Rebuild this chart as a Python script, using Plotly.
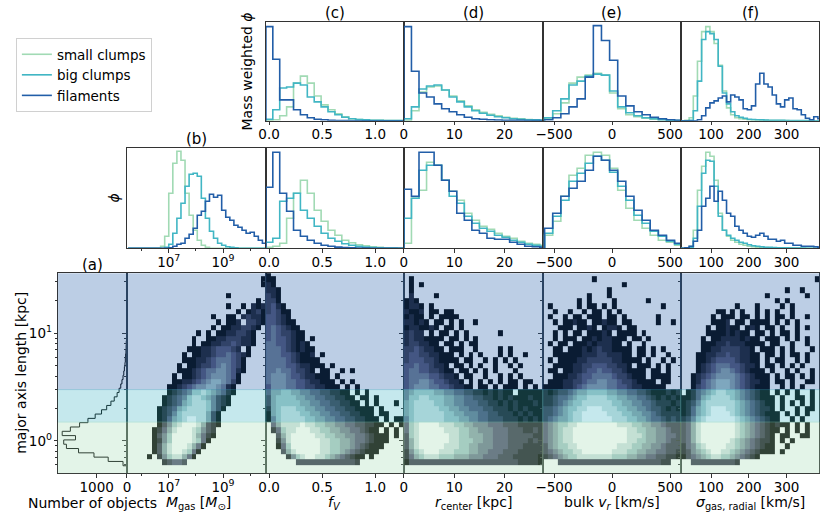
import numpy as np
import plotly.graph_objects as go

W, H = 831, 516

# ---------------- 1D histograms (heights as fraction of panel height) ----------------
MGAS_EDGES_LOG = [5.5 + 0.15 * k for k in range(35)]
MGAS_N_SMALL = [0, 0, 0, 0, 0, 0, 0, 0, 0.02, 0.12, 0.55, 0.85, 0.97, 0.88, 0.55, 0.33, 0.18,
                0.08, 0.03, 0.01, 0, 0, 0, 0, 0, 0, 0, 0, 0, 0, 0, 0, 0, 0]
MGAS_N_BIG = [0, 0, 0, 0, 0, 0, 0, 0, 0, 0.01, 0.04, 0.15, 0.30, 0.45, 0.62, 0.74, 0.75, 0.72,
              0.50, 0.30, 0.17, 0.10, 0.05, 0.03, 0.015, 0.01, 0.005, 0, 0, 0, 0, 0, 0, 0]
MGAS_N_FIL = [0, 0, 0, 0, 0, 0, 0, 0, 0, 0, 0.005, 0.02, 0.04, 0.05, 0.10, 0.14, 0.20, 0.33,
              0.37, 0.47, 0.54, 0.51, 0.53, 0.38, 0.31, 0.28, 0.23, 0.21, 0.18, 0.15, 0.16,
              0.12, 0.08, 0.05]

FV_EDGES = [-0.03 + 0.065 * k for k in range(21)]
FV_MW_SMALL = [0.005, 0.01, 0.05, 0.14, 0.38, 0.45, 0.38, 0.25, 0.16, 0.11, 0.07, 0.04, 0.02,
               0.012, 0.008, 0.005, 0.003, 0.002, 0.001, 0.001]
FV_MW_BIG = [0.015, 0.11, 0.33, 0.34, 0.38, 0.36, 0.24, 0.19, 0.14, 0.09, 0.06, 0.035, 0.02,
             0.012, 0.008, 0.005, 0.003, 0.002, 0.001, 0.001]
FV_MW_FIL = [0.95, 0.62, 0.21, 0.21, 0.11, 0.06, 0.03, 0.015, 0.01, 0.005, 0.002, 0.001, 0, 0,
             0, 0, 0, 0, 0, 0]
FV_N_SMALL = [0.01, 0.02, 0.05, 0.30, 0.55, 0.68, 0.55, 0.38, 0.27, 0.18, 0.13, 0.08, 0.055,
              0.035, 0.025, 0.015, 0.01, 0.006, 0.004, 0.002]
FV_N_BIG = [0.06, 0.10, 0.47, 0.50, 0.55, 0.38, 0.30, 0.22, 0.15, 0.10, 0.07, 0.045, 0.03, 0.02,
            0.012, 0.008, 0.005, 0.003, 0.002, 0.001]
FV_N_FIL = [0.61, 0.96, 0.55, 0.37, 0.18, 0.12, 0.08, 0.05, 0.03, 0.02, 0.012, 0.008, 0.005,
            0.003, 0.002, 0.001, 0, 0, 0, 0]

RC_EDGES = [1.5 * k for k in range(20)]
RC_MW_SMALL = [0.005, 0.10, 0.29, 0.34, 0.35, 0.31, 0.25, 0.20, 0.15, 0.11, 0.085, 0.065, 0.05,
               0.035, 0.025, 0.018, 0.012, 0.008, 0.005]
RC_MW_BIG = [0.02, 0.14, 0.32, 0.35, 0.36, 0.31, 0.24, 0.19, 0.14, 0.10, 0.075, 0.055, 0.04,
             0.03, 0.02, 0.015, 0.01, 0.008, 0.005]
RC_MW_FIL = [0.95, 0.50, 0.28, 0.24, 0.17, 0.12, 0.09, 0.06, 0.035, 0.02, 0.015, 0.01, 0.007,
             0.005, 0.004, 0.003, 0.002, 0.001, 0.001]
RC_N_SMALL = [0.05, 0.50, 0.58, 0.86, 0.83, 0.68, 0.57, 0.48, 0.35, 0.28, 0.22, 0.19, 0.15, 0.12,
              0.10, 0.07, 0.05, 0.04, 0.03]
RC_N_BIG = [0.30, 0.50, 0.78, 0.83, 0.83, 0.68, 0.52, 0.45, 0.32, 0.25, 0.20, 0.17, 0.13, 0.11,
            0.08, 0.06, 0.04, 0.03, 0.02]
RC_N_FIL = [0.59, 0.52, 0.96, 0.96, 0.83, 0.68, 0.57, 0.35, 0.28, 0.18, 0.15, 0.10, 0.09, 0.09,
            0.06, 0.04, 0.02, 0.015, 0.01]

VR_EDGES = [-581 + 70 * k for k in range(18)]
VR_MW_SMALL = [0.02, 0.07, 0.18, 0.38, 0.44, 0.46, 0.48, 0.46, 0.28, 0.12, 0.06, 0.04, 0.025,
               0.015, 0.01, 0.005, 0.002]
VR_MW_BIG = [0.03, 0.10, 0.22, 0.36, 0.40, 0.45, 0.47, 0.46, 0.30, 0.14, 0.08, 0.05, 0.03, 0.02,
             0.01, 0.005, 0.002]
VR_MW_FIL = [0.01, 0.03, 0.07, 0.14, 0.22, 0.44, 0.96, 0.81, 0.61, 0.25, 0.15, 0.09, 0.06, 0.035,
             0.02, 0.01, 0.005]
VR_N_SMALL = [0.13, 0.27, 0.52, 0.73, 0.80, 0.93, 0.96, 0.93, 0.80, 0.58, 0.40, 0.28, 0.20, 0.13,
              0.08, 0.06, 0.03]
VR_N_BIG = [0.15, 0.32, 0.48, 0.67, 0.75, 0.85, 0.92, 0.88, 0.76, 0.62, 0.48, 0.33, 0.25, 0.17,
            0.12, 0.07, 0.04]
VR_N_FIL = [0.20, 0.35, 0.52, 0.60, 0.67, 0.78, 0.92, 0.88, 0.78, 0.67, 0.52, 0.38, 0.28, 0.18,
            0.13, 0.08, 0.05]

SIG_EDGES = [20 + 11 * k for k in range(35)]
SIG_MW_SMALL = [0, 0.005, 0.03, 0.25, 0.60, 0.90, 0.95, 0.90, 0.78, 0.56, 0.30, 0.13, 0.06, 0.03,
                0.02, 0.015, 0.01, 0.008, 0.005, 0.004, 0.003, 0.002, 0.002, 0.001, 0.001, 0.001,
                0, 0, 0, 0, 0, 0, 0, 0]
SIG_MW_BIG = [0, 0, 0.005, 0.10, 0.40, 0.82, 0.90, 0.88, 0.82, 0.55, 0.28, 0.17, 0.09, 0.05,
              0.035, 0.025, 0.015, 0.012, 0.01, 0.008, 0.006, 0.005, 0.004, 0.003, 0.003, 0.002,
              0.002, 0.002, 0.001, 0.001, 0.001, 0, 0, 0]
SIG_MW_FIL = [0, 0, 0, 0, 0.01, 0.05, 0.13, 0.18, 0.20, 0.23, 0.25, 0.19, 0.26, 0.24, 0.21, 0.12,
              0.11, 0.15, 0.37, 0.48, 0.37, 0.34, 0.26, 0.17, 0.14, 0.21, 0.23, 0.12, 0.11, 0.06,
              0.025, 0.01, 0.04, 0.02]
SIG_N_SMALL = [0, 0, 0.02, 0.18, 0.58, 0.82, 0.96, 0.92, 0.68, 0.35, 0.18, 0.12, 0.08, 0.06, 0.04,
               0.03, 0.02, 0.015, 0.01, 0.01, 0.008, 0.006, 0.005, 0.004, 0.003, 0.003, 0.002,
               0.002, 0.002, 0.001, 0.001, 0.001, 0, 0]
SIG_N_BIG = [0, 0, 0.01, 0.10, 0.42, 0.75, 0.88, 0.87, 0.62, 0.32, 0.18, 0.13, 0.10, 0.08, 0.06,
             0.05, 0.035, 0.025, 0.02, 0.015, 0.01, 0.01, 0.008, 0.006, 0.005, 0.004, 0.003,
             0.002, 0.002, 0.002, 0.001, 0.001, 0.001, 0]
SIG_N_FIL = [0, 0.005, 0.02, 0.07, 0.18, 0.42, 0.50, 0.62, 0.47, 0.57, 0.48, 0.35, 0.32, 0.22,
             0.18, 0.15, 0.12, 0.11, 0.13, 0.15, 0.12, 0.09, 0.09, 0.07, 0.08, 0.05, 0.05, 0.03,
             0.03, 0.02, 0.02, 0.02, 0.015, 0.01]

# panel (a): number of objects per major-axis-length bin (log10 edges)
NOBJ_EDGES_LOG = [-0.23 + 0.04 * k for k in range(46)]
NOBJ_COUNTS = [130, 620, 1090, 1600, 2000, 2090, 1700, 2140, 1870, 1565, 1290, 1050, 840, 670,
               530, 420, 325, 260, 205, 165, 130, 105, 85, 65, 54, 43, 33, 27, 22, 16, 11, 8, 6,
               5, 4, 3, 2, 2, 1, 1, 1, 0, 1, 0, 0]

# ---------------- 2D histograms: log-count level per cell (1 dark .. 9 light, '.' empty) -------
# rows from top (log10 L = 1.577) to bottom (log10 L = -0.223), 0.05 dex per row, 28 columns
GRID_LOGL_TOP, GRID_DLOGL, GRID_NROWS, GRID_NCOLS = 1.577, 0.05, 36, 28

MGAS_GRID = [
    "",
    "...........................1",
    "...........................1",
    "",
    "....................1",
    "..........................1",
    "....................1..1.212",
    "......................1.1231",
    ".................1..11.23221",
    "..................1.112.3321",
    ".................1.11223321",
    "..............1.1.11223321",
    ".............1..1122333221",
    ".............1.11223343221",
    "............11122344432.1",
    "...........1.112234454321",
    "...........1112234555431",
    "..........1.112334565431",
    "..........11123455665421",
    ".........1.112345666541",
    ".........11223456776531",
    "........11234566776521",
    "........12345778765421",
    ".......12345788765321",
    ".......12346788875321",
    "......12346788887531",
    "......1235788888631",
    "......1246789988631",
    "......1357899986321",
    ".....1246899987532",
    ".....1357999986421",
    ".....125799998741",
    ".....13689998641",
    ".....1368998741",
    "....1.25788641",
    ".......23443",
]
FV_GRID = [
    "1",
    "11",
    "21",
    "221",
    "321",
    "331",
    "3421",
    "34311",
    "44321",
    "443211",
    "4543211",
    "45433211",
    "45443211.1",
    "554432121",
    "5554321211",
    "5554432112.1",
    "55554321111",
    "555544322111.1",
    "5565543321.11..1.1",
    "5666544322111.1",
    "56665544322111.1.1",
    "466655443322111.1.1",
    "46677665544332211.1.1",
    "367777665544332211.11.1",
    "3677777665544332211.1.1...1",
    "2678887766554433221111.1",
    "1678888776655443322111.11",
    "15788888776655443322111.1.11",
    ".46888898877665544332211.1.1",
    ".2478899988776655443211.1.1",
    "..36899999887766554432111.1",
    "..25899999988776654432111",
    "..1479999998877665432111",
    "...36899999887765432111",
    "....2578998876543211.1",
    "......3333333333332",
]
RC_GRID = [
    "",
    ".1",
    ".1.1",
    ".1",
    ".2....1",
    "121",
    "1221.1",
    "2112.11.11",
    "1211.1.1111",
    "22121.11.1.1..1",
    "1221121.11.1",
    "2322.1.11.1.1......1",
    "23221111.11.1.1",
    "2332211.11.1.11",
    "33432211.111..1....1.1",
    "3443322111.1.1.1...1.1..1",
    "34443321111.11..1.1.1.1",
    "445443221.11.1.1..1..1.1",
    "4554433211.11.1.1.1...1",
    "45555443221.11..1..1.1.1",
    "455665443221.1.1.1.1.11.11",
    "45666554432211.11.1.111.1.1",
    "5677776655443322121211.11111",
    "5778877766554433221212111211",
    "6788887766554443322121211121",
    "6788888776655444332221212111",
    "6788888877665554433222121211",
    "5788888877766554433322212121",
    "4789999888776655544433322222",
    "4789999988877665554443332232",
    "3789999998877666554443333322",
    "3689999998877766554443333232",
    "3689999988877665554443332222",
    "2578999888777665544433322222",
    "2467888777666555444333222221",
    "1333333333333333333333322221",
]
VR_GRID = [
    "",
    "..........1",
    "................1",
    ".............1",
    ".........1...1",
    ".......1.1....1......1",
    ".1.....1.11.1.1.........1",
    "..1..1..1.11.1.1",
    ".1..1.11.111.11.1......1",
    "..1.11211.11211.11.....1..1",
    "...111.1121.1221.11",
    "..1.1.11.11121.1111.1",
    "..1.111.112122111.11.1",
    ".1.11.1112122211.1..1",
    "..11.1112123221111.11.1.1",
    "..1111112223322211.11.1..1",
    ".1.11112233333221111.1..1.1",
    "..1111223344433221.111.1.1",
    ".11.11223445443321111.11.1",
    "..1112234455554332111.1111",
    ".1112233455665543321111.11",
    "1111223456666554432211111",
    "2123345667777665544332111212",
    "2234456778888776655443212121",
    "2234567788888877665544322212",
    "3345677889998887766554332121",
    "3345678899999888776655432222",
    "3456678899999988877665443232",
    "4567788999999998887766554333",
    "4567889999999999988776655433",
    "4567889999999999988876655443",
    "4567889999999999988776655433",
    "3567788999999998887766554333",
    "3456778899999988877665544332",
    "2345677888888877766554433221",
    "...33333333333333333333322..",
]
SIG_GRID = [
    "",
    "...........................1",
    "",
    ".....................1..1",
    ".................1.......1",
    "...................1.1",
    "...........1...1....1.1",
    ".......11.1.1..1.1.1..1",
    "......1.111.11.1.1.11.1..1",
    "......1112.11.1111.1.1.1",
    ".....1.11211.121.11.1..1.1",
    ".....111121211.11.1.11.1",
    "....1.1122221211.111.1.1.1",
    "....1112232221111.11..1..1",
    "....11223333221.111.1.1...1",
    "...1122334332211.11.1.11.1",
    "...1123444432211.1.11..1.1",
    "...1234555443221.11.1.1.1",
    "...12345665432111.1..1.1..1",
    "..1234566665432111.1.11.1.1",
    "..1245677765432211.11.1..11",
    "..1345677765432111..1.1.1",
    ".12456788776543211.1.1.1..1",
    "1124678888765432111.1..11.1",
    "1235788888876543211.1.1.1.1",
    "1246789998876543221.1..1.11",
    "12467899998765432111.1.1.1",
    "23578999999876543211..1.1",
    "3468999999987654321211.1.1",
    "34689999999876543211.1.1.1",
    "3468999999987654321.11..11",
    "3468999999876543221.1.1",
    "2457899998876543211..1",
    "2356789988765432111.1",
    "1345678877654321",
    "..3333333332",
]

SERIES = ["small clumps", "big clumps", "filaments"]
COLORS = {"small clumps": "#a1dab4", "big clumps": "#41b6c4", "filaments": "#225ea8"}

# ---------------- layout geometry (pixels) ----------------
COLS = {"a": (51, 120.7), "b": (120.7, 261.7), "c": (261.7, 401.7),
        "d": (401.7, 542.7), "e": (542.7, 682.7), "f": (682.7, 823.3)}
ROWS = {"bot": (273.3, 473.3), "mid": (148.3, 248.3), "top": (21.7, 120.7)}
AX = {("bot", "a"): 1, ("bot", "b"): 2, ("bot", "c"): 3, ("bot", "d"): 4, ("bot", "e"): 5,
      ("bot", "f"): 6, ("mid", "b"): 7, ("mid", "c"): 8, ("mid", "d"): 9, ("mid", "e"): 10,
      ("mid", "f"): 11, ("top", "c"): 12, ("top", "d"): 13, ("top", "e"): 14, ("top", "f"): 15}

FONT = "DejaVu Sans"
AXC = "#333333"
TICKFS = 13.5
LABFS = 14


def xname(n):
    return "x" if n == 1 else f"x{n}"


def yname(n):
    return "y" if n == 1 else f"y{n}"


XSPEC = {
    "a": dict(range=[2270, 0], tickvals=[1000, 0], ticktext=["1000", "0"]),
    "b": dict(type="log", range=[5.46, 10.58], tickvals=[1e7, 1e9],
              ticktext=["10<sup>7</sup>", "10<sup>9</sup>"],
              minor=dict(tickvals=[1e6, 1e8, 1e10], ticks="outside", ticklen=2, tickcolor=AXC)),
    "c": dict(range=[-0.03, 1.27], tickvals=[0, 0.5, 1.0], ticktext=["0.0", "0.5", "1.0"]),
    "d": dict(range=[0, 27.6], tickvals=[0, 10, 20], ticktext=["0", "10", "20"]),
    "e": dict(range=[-596, 593], tickvals=[-500, 0, 500], ticktext=["\u2212500", "0", "500"]),
    "f": dict(range=[20, 387], tickvals=[100, 200, 300], ticktext=["100", "200", "300"]),
}
YMINOR = [0.6, 0.7, 0.8, 0.9, 2, 3, 4, 5, 6, 7, 8, 9, 20, 30]

fig = go.Figure()
layout = dict(width=W, height=H, autosize=False, margin=dict(l=0, r=0, t=0, b=0),
              paper_bgcolor="white", plot_bgcolor="white",
              font=dict(family=FONT, size=TICKFS, color="black"))

for (row, col), n in AX.items():
    x0, x1 = COLS[col]
    t, b = ROWS[row]
    xa = dict(domain=[x0 / W, x1 / W], anchor=yname(n), showline=True, mirror=True,
              linecolor=AXC, linewidth=1, ticks="outside", ticklen=3.5, tickcolor=AXC,
              showgrid=False, zeroline=False, tickmode="array", ticklabelstandoff=-2,
              tickfont=dict(family=FONT, size=TICKFS))
    xa.update(XSPEC[col])
    ya = dict(domain=[1 - b / H, 1 - t / H], anchor=xname(n), showline=True, mirror=True,
              linecolor=AXC, linewidth=1, showgrid=False, zeroline=False)
    if row == "bot":
        ya.update(type="log", range=[-0.30, 1.557], tickmode="array", tickvals=[1, 10],
                  ticktext=["10<sup>0</sup>", "10<sup>1</sup>"], ticks="outside", ticklen=3.5,
                  tickcolor=AXC, showticklabels=(col == "a"), ticklabelstandoff=-1,
                  tickfont=dict(family=FONT, size=TICKFS),
                  minor=dict(tickvals=YMINOR, ticks="outside", ticklen=2, tickcolor=AXC))
    else:
        ya.update(range=[0, 1.0], showticklabels=False, ticks="")
    layout["xaxis" if n == 1 else f"xaxis{n}"] = xa
    layout["yaxis" if n == 1 else f"yaxis{n}"] = ya


def step_xy(edges, heights):
    k = len(heights)
    xs = [edges[0]] + list(edges[:k]) + [edges[k]]
    ys = [0] + list(heights) + [0]
    return xs, ys


HISTS = {
    ("mid", "b"): ([10 ** e for e in MGAS_EDGES_LOG], [MGAS_N_SMALL, MGAS_N_BIG, MGAS_N_FIL]),
    ("mid", "c"): (FV_EDGES, [FV_N_SMALL, FV_N_BIG, FV_N_FIL]),
    ("mid", "d"): (RC_EDGES, [RC_N_SMALL, RC_N_BIG, RC_N_FIL]),
    ("mid", "e"): (VR_EDGES, [VR_N_SMALL, VR_N_BIG, VR_N_FIL]),
    ("mid", "f"): (SIG_EDGES, [SIG_N_SMALL, SIG_N_BIG, SIG_N_FIL]),
    ("top", "c"): (FV_EDGES, [FV_MW_SMALL, FV_MW_BIG, FV_MW_FIL]),
    ("top", "d"): (RC_EDGES, [RC_MW_SMALL, RC_MW_BIG, RC_MW_FIL]),
    ("top", "e"): (VR_EDGES, [VR_MW_SMALL, VR_MW_BIG, VR_MW_FIL]),
    ("top", "f"): (SIG_EDGES, [SIG_MW_SMALL, SIG_MW_BIG, SIG_MW_FIL]),
}

first = True
for key, (edges, series) in HISTS.items():
    n = AX[key]
    for name, h in zip(SERIES, series):
        xs, ys = step_xy(edges, h)
        fig.add_trace(go.Scatter(x=xs, y=ys, mode="lines", line_shape="hv",
                                 line=dict(color=COLORS[name], width=1.6),
                                 name=name, legendgroup=name, showlegend=first,
                                 xaxis=xname(n), yaxis=yname(n), hoverinfo="skip"))
    first = False

# panel (a) histogram
ya_edges = [10 ** e for e in NOBJ_EDGES_LOG]
fig.add_trace(go.Scatter(x=[0] + NOBJ_COUNTS + [0], y=ya_edges + [ya_edges[-1]],
                         mode="lines", line_shape="hv", line=dict(color="black", width=1),
                         showlegend=False, xaxis="x", yaxis="y", hoverinfo="skip"))

# 2D histograms (matplotlib "bone"-like colour ramp)
BONE = [[0.0, "rgb(0,0,0)"], [0.125, "rgb(28,28,39)"], [0.25, "rgb(56,56,77)"],
        [0.365, "rgb(81,81,113)"], [0.5, "rgb(111,123,143)"], [0.625, "rgb(139,163,170)"],
        [0.746, "rgb(166,198,198)"], [0.875, "rgb(211,227,227)"], [1.0, "rgb(255,255,255)"]]


def grid_to_z(rows):
    z = []
    for r in rows:
        r = (r + "." * GRID_NCOLS)[:GRID_NCOLS]
        z.append([None if ch == "." else int(ch) for ch in r])
    return z[::-1]


y_edges = [10 ** (GRID_LOGL_TOP - GRID_DLOGL * (GRID_NROWS - j)) for j in range(GRID_NROWS + 1)]
XR = {"b": (5.46, 10.58), "c": (-0.03, 1.27), "d": (0.0, 27.6), "e": (-596, 593), "f": (20, 387)}
GRIDS = {"b": MGAS_GRID, "c": FV_GRID, "d": RC_GRID, "e": VR_GRID, "f": SIG_GRID}
for col, grid in GRIDS.items():
    lo, hi = XR[col]
    xe = np.linspace(lo, hi, GRID_NCOLS + 1)
    if col == "b":
        xe = 10 ** xe
    n = AX[("bot", col)]
    fig.add_trace(go.Heatmap(x=list(xe), y=y_edges, z=grid_to_z(grid), colorscale=BONE,
                             zmin=1, zmax=9, showscale=False, hoverinfo="skip",
                             xaxis=xname(n), yaxis=yname(n)))

# overlaid category bands: filaments above 3 kpc, big clumps 1.5-3 kpc, small clumps below
BANDS = [(3.0, 36.1, "#225ea8"), (1.5, 3.0, "#41b6c4"), (0.5, 1.5, "#a1dab4")]
shapes = []
for col in "abcdef":
    n = AX[("bot", col)]
    for y0, y1, c in BANDS:
        shapes.append(dict(type="rect", xref=f"{xname(n)} domain", x0=0, x1=1,
                           yref=yname(n), y0=y0, y1=y1, fillcolor=c, opacity=0.3,
                           line=dict(color=c, width=1), layer="above"))
layout["shapes"] = shapes


def ann(text, x, y, size=LABFS, angle=0):
    return dict(text=text, x=x / W, y=1 - y / H, xref="paper", yref="paper",
                showarrow=False, textangle=angle, xanchor="center", yanchor="middle",
                font=dict(family=FONT, size=size, color="black"))


anns = [
    ann("(a)", 86, 265, 15), ann("(b)", 191, 139, 15), ann("(c)", 331.7, 12.5, 15),
    ann("(d)", 472, 12.5, 15), ann("(e)", 612.7, 12.5, 15), ann("(f)", 753, 12.5, 15),
    ann("major axis length [kpc]", 13, 373, LABFS, -90),
    ann("<i>\u03d5</i>", 108, 198, LABFS, -90),
    ann("Mass weighted <i>\u03d5</i>", 243, 71, LABFS, -90),
    ann("Number of objects", 86, 503),
    ann("<i>M</i><sub>gas</sub> [<i>M</i><sub>\u2299</sub>]", 193, 503),
    ann("<i>f<sub>V</sub></i>", 331.7, 503),
    ann("<i>r</i><sub>center</sub> [kpc]", 472, 503),
    ann("bulk <i>v<sub>r</sub></i> [km/s]", 612.7, 503),
    ann("<i>\u03c3</i><sub>gas, radial</sub> [km/s]", 753, 503),
]
layout["annotations"] = anns
layout["legend"] = dict(x=8 / W, y=1 - 38 / H, xanchor="left", yanchor="top",
                        bgcolor="white", bordercolor="#d0d0d0", borderwidth=1,
                        font=dict(family=FONT, size=13.5), tracegroupgap=0)
fig.update_layout(**layout)
fig.write_html("out.html", config={"displayModeBar": False},
               post_script="document.body.style.margin='0px';")
